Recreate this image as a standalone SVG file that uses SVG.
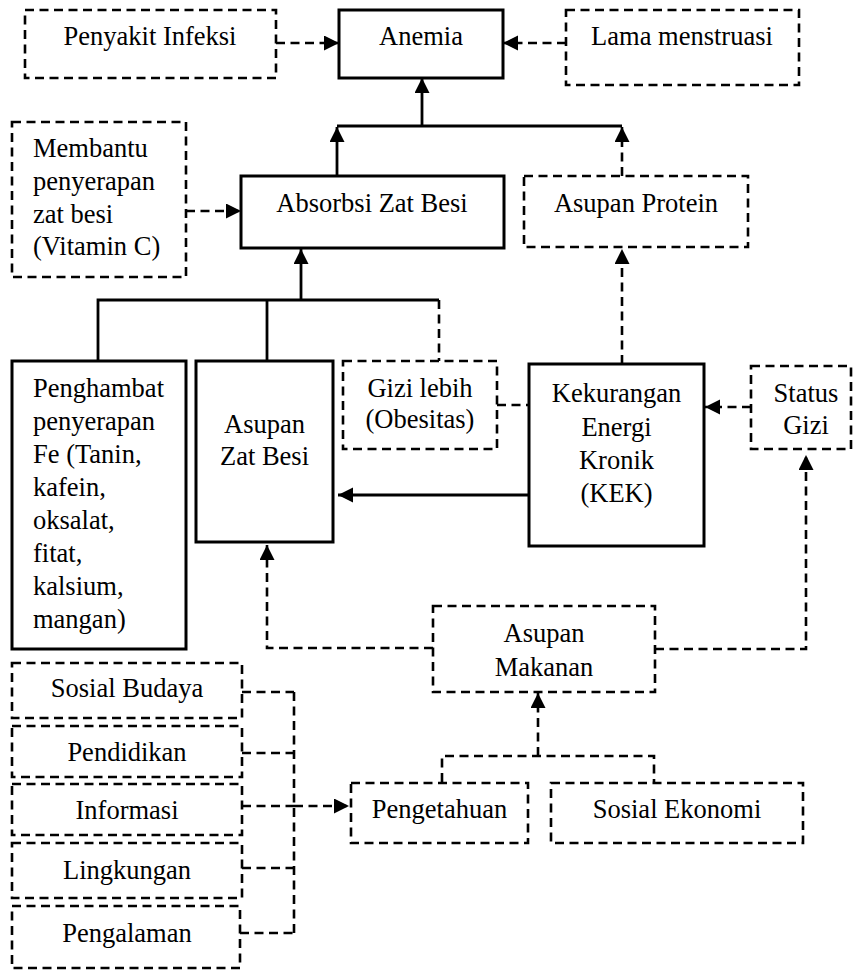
<svg xmlns="http://www.w3.org/2000/svg" width="856" height="970" viewBox="0 0 856 970">
<defs>
<marker id="arr" markerUnits="userSpaceOnUse" markerWidth="16" markerHeight="16" refX="15" refY="7.5" orient="auto">
<path d="M0,0 L15,7.5 L0,15 z" fill="#000"/>
</marker>
<style>
.s{fill:#fff;stroke:#000;stroke-width:3}
.d{fill:#fff;stroke:#000;stroke-width:2.6;stroke-dasharray:9 5.5}
.ls{fill:none;stroke:#000;stroke-width:2.8}
.ld{fill:none;stroke:#000;stroke-width:2.6;stroke-dasharray:9 5.5}
.c{text-anchor:middle}
</style>
</defs>
<rect width="856" height="970" fill="#fff"/>
<g id="connectors">
<path class="ld" d="M276,43 H339" marker-end="url(#arr)"/>
<path class="ld" d="M566,43 H503" marker-end="url(#arr)"/>
<path class="ls" d="M422,126 V78" marker-end="url(#arr)"/>
<path class="ls" d="M337,126 H622"/>
<path class="ls" d="M337,176 V127" marker-end="url(#arr)"/>
<path class="ld" d="M622,176 V127" marker-end="url(#arr)"/>
<path class="ld" d="M186,211 H241" marker-end="url(#arr)"/>
<path class="ls" d="M301,300 V249" marker-end="url(#arr)"/>
<path class="ls" d="M98,361 V300 H439"/>
<path class="ls" d="M267,300 V361"/>
<path class="ld" d="M439,300 V361"/>
<path class="ld" d="M622,364 V249" marker-end="url(#arr)"/>
<path class="ld" d="M497,405 H529"/>
<path class="ls" d="M529,495 H338" marker-end="url(#arr)"/>
<path class="ld" d="M751,407 H705" marker-end="url(#arr)"/>
<path class="ld" d="M655,649 H806 V455" marker-end="url(#arr)"/>
<path class="ld" d="M433,648 H267 V545" marker-end="url(#arr)"/>
<path class="ld" d="M442,782 V756 H654 V782"/>
<path class="ld" d="M538,756 V693" marker-end="url(#arr)"/>
<path class="ld" d="M242,692 H294 M242,753 H294 M242,806 H294 M242,868 H294 M240,933 H294 M294,692 V933"/>
<path class="ld" d="M294,806 H349" marker-end="url(#arr)"/>
</g>
<g font-family="'Liberation Serif', 'Times New Roman', serif" font-size="26.5" fill="#000">
<g id="penyakit-infeksi"><rect class="d" x="25" y="10" width="251" height="68"/><text class="c" x="150" y="45">Penyakit Infeksi</text></g>
<g id="anemia"><rect class="s" x="339" y="10" width="164" height="68"/><text class="c" x="421" y="45">Anemia</text></g>
<g id="lama-menstruasi"><rect class="d" x="566" y="10" width="233" height="75"/><text class="c" x="682" y="45">Lama menstruasi</text></g>
<g id="membantu"><rect class="d" x="12" y="122" width="174" height="155"/>
<text x="33" y="157">Membantu</text><text x="33" y="190">penyerapan</text><text x="33" y="223">zat besi</text><text x="33" y="255">(Vitamin C)</text></g>
<g id="absorbsi"><rect class="s" x="241" y="176" width="263" height="72"/><text class="c" x="372" y="212">Absorbsi Zat Besi</text></g>
<g id="asupan-protein"><rect class="d" x="524" y="176" width="224" height="71"/><text class="c" x="636" y="212">Asupan Protein</text></g>
<g id="penghambat"><rect class="s" x="12" y="361" width="174" height="288"/>
<text x="33" y="397">Penghambat</text><text x="33" y="430">penyerapan</text><text x="33" y="463">Fe (Tanin,</text><text x="33" y="496">kafein,</text><text x="33" y="529">oksalat,</text><text x="33" y="562">fitat,</text><text x="33" y="595">kalsium,</text><text x="33" y="628">mangan)</text></g>
<g id="asupan-zat-besi"><rect class="s" x="196" y="361" width="137" height="181"/><text class="c" x="264.5" y="433">Asupan</text><text class="c" x="264.5" y="465">Zat Besi</text></g>
<g id="gizi-lebih"><rect class="d" x="343" y="361" width="154" height="88"/><text class="c" x="420" y="397">Gizi lebih</text><text class="c" x="420" y="428">(Obesitas)</text></g>
<g id="kek"><rect class="s" x="529" y="364" width="175" height="182"/>
<text class="c" x="616.5" y="402">Kekurangan</text><text class="c" x="616.5" y="436">Energi</text><text class="c" x="616.5" y="469">Kronik</text><text class="c" x="616.5" y="502">(KEK)</text></g>
<g id="status-gizi"><rect class="d" x="751" y="366" width="100" height="83"/><text class="c" x="806" y="402">Status</text><text class="c" x="806" y="434">Gizi</text></g>
<g id="asupan-makanan"><rect class="d" x="433" y="606" width="222" height="86"/><text class="c" x="544" y="642">Asupan</text><text class="c" x="544" y="676">Makanan</text></g>
<g id="pengetahuan"><rect class="d" x="351" y="783" width="177" height="60"/><text class="c" x="439.5" y="818">Pengetahuan</text></g>
<g id="sosial-ekonomi"><rect class="d" x="551" y="783" width="252" height="60"/><text class="c" x="677" y="818">Sosial Ekonomi</text></g>
<g id="sosial-budaya"><rect class="d" x="12" y="663" width="230" height="55"/><text class="c" x="127" y="697">Sosial Budaya</text></g>
<g id="pendidikan"><rect class="d" x="12" y="726" width="230" height="51"/><text class="c" x="127" y="761">Pendidikan</text></g>
<g id="informasi"><rect class="d" x="12" y="784" width="230" height="51"/><text class="c" x="127" y="819">Informasi</text></g>
<g id="lingkungan"><rect class="d" x="12" y="843" width="230" height="55"/><text class="c" x="127" y="879">Lingkungan</text></g>
<g id="pengalaman"><rect class="d" x="12" y="906" width="228" height="62"/><text class="c" x="127" y="942">Pengalaman</text></g>
</g>
</svg>
